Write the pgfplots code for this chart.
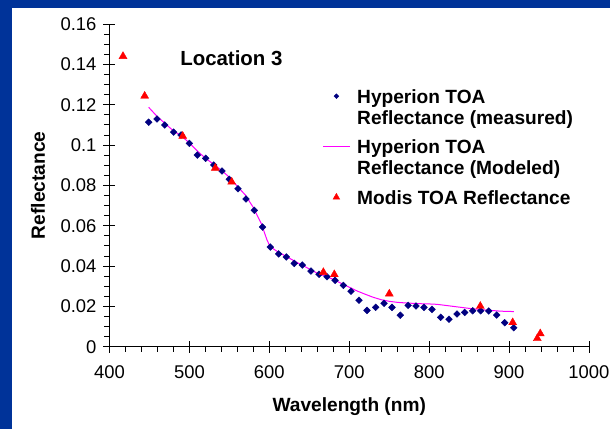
\documentclass[border=0pt]{standalone}
\usepackage{pgfplots}
\pgfplotsset{compat=1.18}
\usepackage{fontspec}
\setmainfont{Liberation Sans}

\definecolor{frameblue}{RGB}{0,51,153}
\definecolor{hypblue}{RGB}{0,0,128}
\definecolor{modisred}{RGB}{255,0,0}
\definecolor{modeled}{RGB}{255,0,255}

% legend text: several lines, marker level with the first one
\newcommand{\entry}[1]{\raisebox{0pt}[\height][0pt]{\begin{tabular}[t]{@{}l@{}}#1\end{tabular}}}
\pgfplotsset{long line legend/.style={legend image code/.code={\draw[##1] (-4.8bp,0bp) -- (21.8bp,0bp);}}}

\begin{document}
\begin{tikzpicture}
\fill[frameblue] (-109.5bp,-82.3bp) rectangle (500.5bp,346.7bp);
\fill[white] (-97.5bp,-82.3bp) rectangle (500.5bp,338.7bp);
\begin{axis}[
	at={(0,0)}, anchor=south west,
	scale only axis, width=479.5bp, height=322.7bp,
	xmin=400, xmax=1000, ymin=0, ymax=0.16,
	axis x line*=bottom, axis y line*=left,
	axis line style={-, line width=0.8bp, black},
	xtick={400,500,600,700,800,900,1000},
	ytick={0,0.02,0.04,0.06,0.08,0.1,0.12,0.14,0.16},
	minor x tick num=4, minor y tick num=3,
	tick align=outside, major tick length=12bp, minor tick length=5bp,
	tick style={black, line width=0.8bp},
	every major x tick/.append style={yshift=6bp},
	every major y tick/.append style={xshift=6bp},
	scaled y ticks=false,
	/pgf/number format/assume math mode=true,
	ticklabel style={font=\fontsize{18.5}{20}\selectfont},
	xticklabel style={yshift=-3.1bp, /pgf/number format/1000 sep={}},
	yticklabel style={xshift=2.5bp, /pgf/number format/fixed, /pgf/number format/precision=2},
	xlabel={Wavelength (nm)}, ylabel={Reflectance},
	label style={font=\fontsize{19.2}{20.7}\selectfont\bfseries},
	x label style={at={([yshift=-60.3bp]axis description cs:0.5,0)}, anchor=center},
	y label style={at={([xshift=-71.5bp]axis description cs:0,0.5)}, anchor=center},
	clip=false,
	legend cell align=left,
	legend style={draw=none, fill=none, at={(axis description cs:0.444,0.7993)}, anchor=north west,
		inner sep=0pt, row sep=36.1bp, column sep=7bp,
		font=\fontsize{19.2}{20.7}\selectfont\bfseries,
		nodes={inner sep=0pt, text depth=0pt}},
]

\addplot[only marks, mark=square*, mark size=2.4bp, color=hypblue,
	mark options={rotate=45}, legend image post style={mark size=1.7bp}] coordinates {
	(449.0,0.1113) (459.4,0.1129) (469.1,0.1099) (480.3,0.1064) (489.5,0.1050)
	(499.9,0.1008) (509.9,0.0950) (520.4,0.0934) (530.4,0.0901) (540.8,0.0871)
	(549.9,0.0830) (560.8,0.0783) (570.8,0.0732) (581.2,0.0676) (591.5,0.0593)
	(601.2,0.0494) (611.7,0.0460) (621.2,0.0445) (631.2,0.0413) (641.3,0.0405)
	(652.1,0.0375) (662.2,0.0359) (672.2,0.0347) (682.2,0.0329) (692.6,0.0304)
	(702.2,0.0275) (712.2,0.0230) (722.2,0.0180) (733.1,0.0195) (743.5,0.0215)
	(753.5,0.0195) (763.9,0.0156) (773.7,0.0205) (783.5,0.0202) (793.5,0.0195)
	(803.5,0.0185) (814.4,0.0146) (824.8,0.0136) (834.8,0.0162) (844.5,0.0170)
	(854.5,0.0178) (864.5,0.0178) (874.5,0.0177) (884.5,0.0157) (894.5,0.0119)
	(905.8,0.0094)
};
\addlegendentry{\entry{Hyperion TOA\\Reflectance (measured)}}

\addplot[no marks, color=modeled, line width=1bp, long line legend] coordinates {
	(449,0.1187) (460,0.1140) (470,0.1105) (480,0.1070) (490,0.1045)
	(500,0.1010) (510,0.0970) (520,0.0935) (530,0.0905) (540,0.0875)
	(550,0.0840) (560,0.0795) (570,0.0752) (580,0.0690) (590,0.0610)
	(597,0.0530) (601,0.0496) (610,0.0472) (620,0.0450) (630,0.0428)
	(640,0.0406) (650,0.0386) (660,0.0364) (670,0.0350) (680,0.0334)
	(690,0.0314) (700,0.0295) (710,0.0276) (720,0.0260) (730,0.0245)
	(740,0.0233) (750,0.0225) (760,0.0220) (770,0.0217) (780,0.0215)
	(790,0.0213) (800,0.0212) (810,0.0210) (820,0.0205) (830,0.0200)
	(840,0.0195) (850,0.0190) (860,0.0186) (870,0.0182) (880,0.0179)
	(890,0.0176) (900,0.0175) (906,0.0174)
};
\addlegendentry{\entry{Hyperion TOA\\Reflectance (Modeled)}}

\addplot[only marks, mark=triangle*, mark size=4.6bp, color=modisred,
	legend image post style={mark size=3.9bp}] coordinates {
	(416.9,0.1440) (444.0,0.1243) (491.6,0.1044) (532.4,0.0886) (552.9,0.0817)
	(667.6,0.0369) (681.3,0.0358) (750.1,0.0262) (864.0,0.0201) (904.5,0.0120)
	(935.3,0.0041) (939.0,0.0065)
};
\addlegendentry{\entry{Modis TOA Reflectance}}

\node[font=\fontsize{20.5}{22}\selectfont\bfseries, anchor=center] at (axis cs:552.5,0.143) {Location 3};
\end{axis}
\pgfresetboundingbox
\path[use as bounding box] (-109.5bp,-82.3bp) rectangle (500.5bp,346.7bp);
\end{tikzpicture}
\end{document}
